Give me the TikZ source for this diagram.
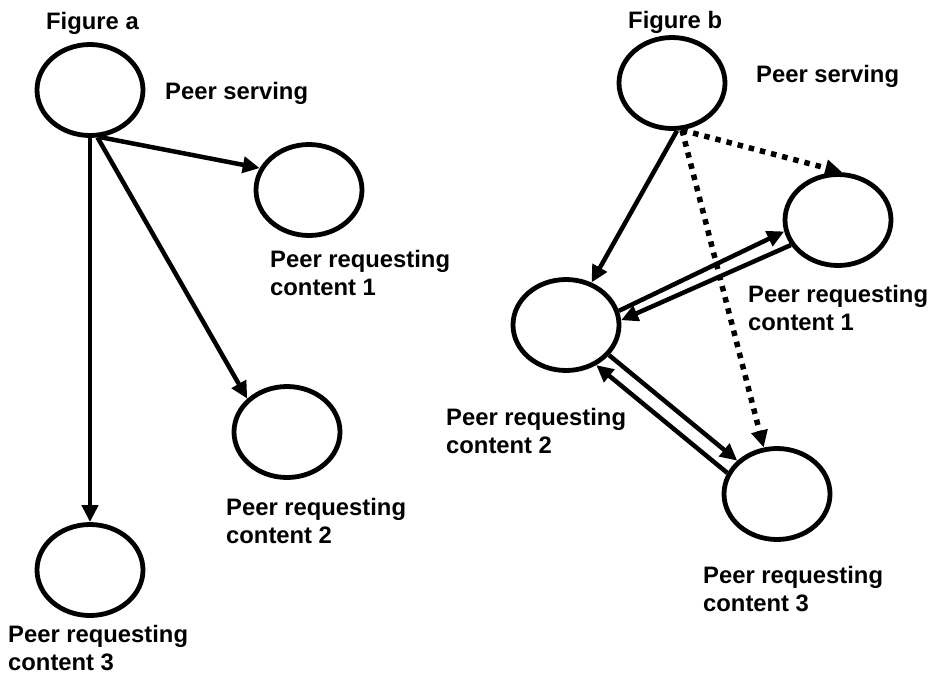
\documentclass[tikz,border=0pt]{standalone}
\usepackage{fontspec}
\setmainfont{Liberation Sans}
\usetikzlibrary{shapes.geometric,arrows.meta}
\newcommand{\twolines}[2]{\vtop{\hbox{#1}\hbox{#2}}}
\begin{document}
\begin{tikzpicture}[x=1pt,y=-1pt,
  peer/.style={draw,ellipse,line width=4.8pt,minimum width=106pt,minimum height=91pt,inner sep=0pt},
  lbl/.style={anchor=base west,inner sep=0pt,font=\fontsize{23.8}{28}\selectfont\bfseries},
  conn/.style={line width=4.5pt,-{Triangle[length=17pt,width=16pt]}},
  dotconn/.style={line width=5.5pt,dash pattern=on 5.5pt off 6pt,-{Triangle[length=17pt,width=16pt]}}]
\useasboundingbox (0,0) rectangle (931,675);
% Figure a
\node[peer] (psa) at (90,90) {};
\node[peer] (c1a) at (309,190) {};
\node[peer] (c2a) at (287,432) {};
\node[peer] (c3a) at (90,570) {};
\node[lbl] (figa) at (46,29) {Figure a};
\node[lbl] (lpsa) at (165,99) {Peer serving};
\node[lbl] (l1a) at (270,267) {\twolines{Peer requesting}{content 1}};
\node[lbl] (l2a) at (226,515) {\twolines{Peer requesting}{content 2}};
\node[lbl] (l3a) at (8,642) {\twolines{Peer requesting}{content 3}};
\draw[conn] (psa.-78) -- (c1a.156);
\draw[conn] (psa.-81) -- (c2a.140);
\draw[conn] (psa.south) -- (c3a.north);
% Figure b
\node[peer] (psb) at (672,83) {};
\node[peer] (c1b) at (838,220) {};
\node[peer] (c2b) at (566,325) {};
\node[peer] (c3b) at (777,494) {};
\node[lbl] (figb) at (628,28) {Figure b};
\node[lbl] (lpsb) at (756,82) {Peer serving};
\node[lbl] (l1b) at (748,302) {\twolines{Peer requesting}{content 1}};
\node[lbl] (l2b) at (446,425) {\twolines{Peer requesting}{content 2}};
\node[lbl] (l3b) at (703,583) {\twolines{Peer requesting}{content 3}};
\draw[conn] (psb.-84) -- (c2b.59);
\draw[dotconn] (psb.-78) -- (c1b.85);
\draw[dotconn] (psb.-78) -- (c3b.106);
\draw[conn] (c2b.15) -- (c1b.-168);
\draw[conn] (c1b.-152) -- (c2b.5);
\draw[conn] (c2b.-35) -- (c3b.140);
\draw[conn] (c3b.157) -- (c2b.-53);
\end{tikzpicture}
\end{document}
